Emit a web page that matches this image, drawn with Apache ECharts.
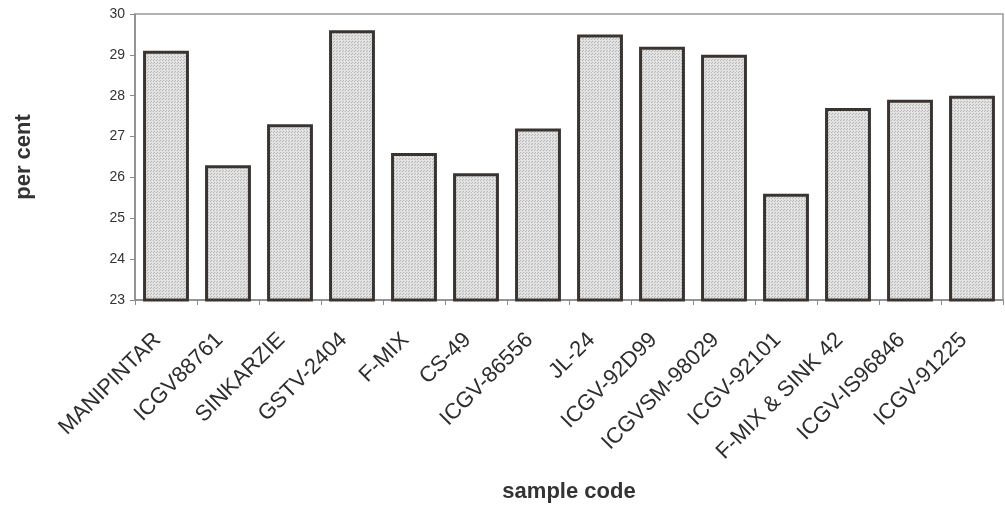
<!DOCTYPE html>
<html>
<head>
<meta charset="utf-8">
<script src="https://cdn.jsdelivr.net/npm/echarts@6/dist/echarts.min.js"></script>
<style>
html,body{margin:0;padding:0;background:#fff;}
#chart{width:1005px;height:507px;}
</style>
</head>
<body>
<div id="chart"></div>
<script>
const categories = ['MANIPINTAR','ICGV88761','SINKARZIE','GSTV-2404','F-MIX','CS-49','ICGV-86556','JL-24','ICGV-92D99','ICGVSM-98029','ICGV-92101','F-MIX & SINK 42','ICGV-IS96846','ICGV-91225'];
const values = [29.1, 26.3, 27.3, 29.6, 26.6, 26.1, 27.2, 29.5, 29.2, 29.0, 25.6, 27.7, 27.9, 28.0];
const yTicks = [23, 24, 25, 26, 27, 28, 29, 30];

// dotted fill pattern
const pc = document.createElement('canvas');
pc.width = 3; pc.height = 3;
const pctx = pc.getContext('2d');
pctx.fillStyle = '#e2e2e2';
pctx.fillRect(0, 0, 3, 3);
pctx.fillStyle = '#b4b4b4';
pctx.fillRect(0, 0, 1, 1);
pctx.fillRect(1, 2, 1, 1);

const chart = echarts.init(document.getElementById('chart'), null, {renderer: 'canvas'});
const font = 'Liberation Sans, Arial, sans-serif';
chart.setOption({
  animation: false,
  backgroundColor: '#ffffff',
  grid: {left: 135, right: 2, top: 14, bottom: 207, show: true, borderColor: '#9a9a9a', borderWidth: 1.5, containLabel: false, outerBoundsMode: 'none'},
  xAxis: {
    type: 'category',
    data: categories,
    name: 'sample code',
    nameLocation: 'middle',
    nameGap: 181,
    nameTextStyle: {fontFamily: font, fontWeight: 'bold', fontSize: 22, color: '#333'},
    axisLine: {lineStyle: {color: '#8a8a8a', width: 1.5}},
    axisTick: {show: true, alignWithLabel: false, length: 5, lineStyle: {color: '#8a8a8a'}},
    axisLabel: {rotate: 45, margin: 28, padding: [0, 12, 0, 0], fontFamily: font, fontSize: 22, color: '#2e2e2e', interval: 0, hideOverlap: false}
  },
  yAxis: {
    type: 'value',
    min: yTicks[0],
    max: yTicks[yTicks.length - 1],
    interval: 1,
    name: 'per cent',
    nameLocation: 'middle',
    nameRotate: 90,
    nameGap: 100,
    nameTextStyle: {fontFamily: font, fontWeight: 'bold', fontSize: 22, color: '#333'},
    axisLine: {show: true, lineStyle: {color: '#8a8a8a', width: 1.5}},
    axisTick: {show: true, length: 5, lineStyle: {color: '#8a8a8a'}},
    splitLine: {show: false},
    axisLabel: {margin: 10, fontFamily: font, fontSize: 14, color: '#333'}
  },
  series: [{
    type: 'bar',
    data: values,
    barWidth: '74%',
    itemStyle: {
      color: {image: pc, repeat: 'repeat'},
      borderColor: '#3a3431',
      borderWidth: 3
    }
  }]
});
</script>
</body>
</html>
